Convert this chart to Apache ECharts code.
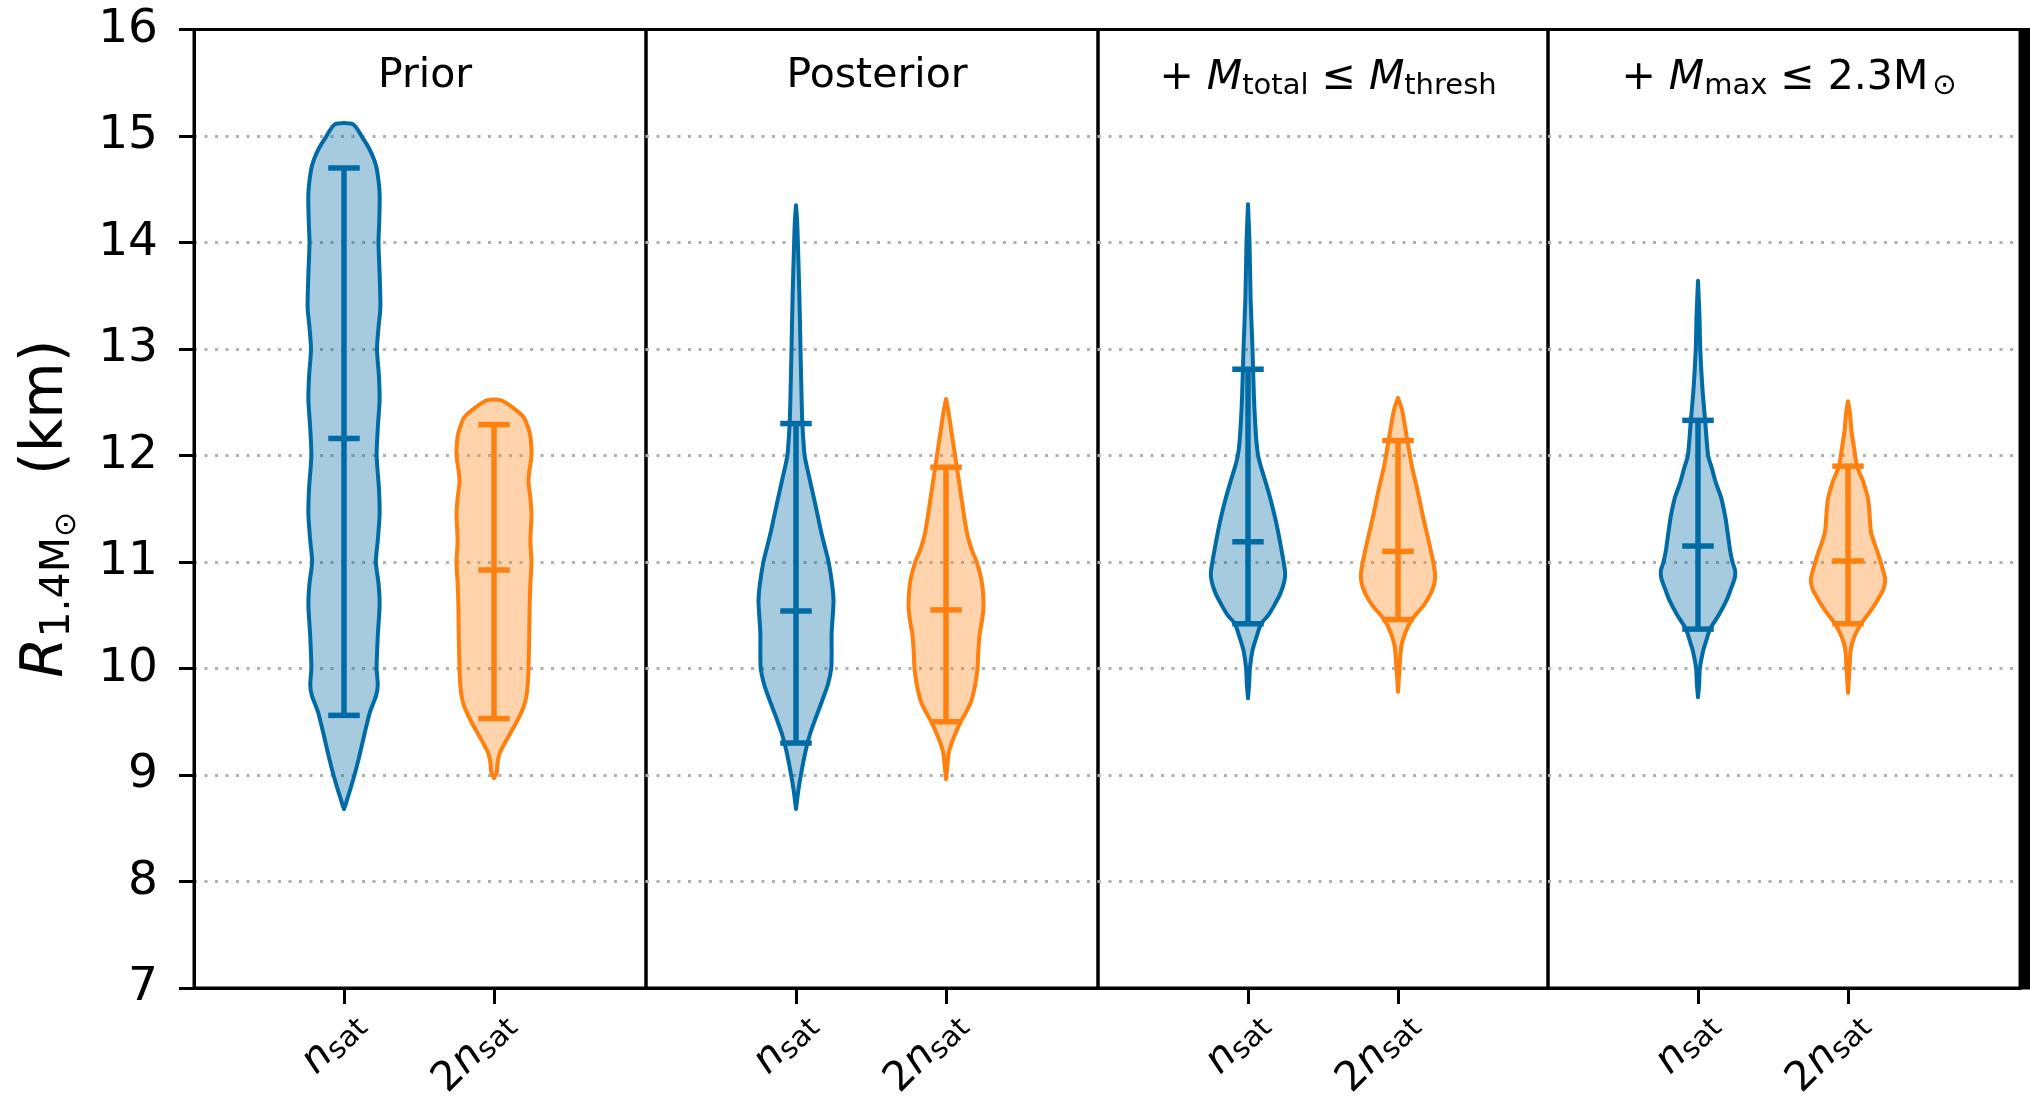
<!DOCTYPE html>
<html>
<head>
<meta charset="utf-8">
<script src="https://cdn.jsdelivr.net/npm/echarts@6/dist/echarts.min.js"></script>
<style>
  html, body { margin: 0; padding: 0; background: #ffffff; }
  #chart { width: 2030px; height: 1097px; }
</style>
</head>
<body>
<div id="chart"></div>
<script>
// R(1.4 Msun) distributions for the n_sat and 2 n_sat cut-offs, one panel per constraint stage.

// Panel titles (rich-text markup) and density cut-off tick labels
const panelTitles = [
  '{t|Prior}',
  '{t|Posterior}',
  '{t|+ }{i|M}{s|total}{t| ≤ }{i|M}{s|thresh}',
  '{t|+ }{i|M}{s|max}{t| ≤ 2.3M}{o|⊙}'
];
const cutoffPositions = [1, 2];
const cutoffLabels = ['{i|n}{s|sat}', '{t|2}{i|n}{s|sat}'];

// Radius axis (km)
const radiusMin = 7;
const radiusMax = 16;
const radiusStep = 1;

// Violin outlines: [radius (km), relative density] from top to bottom
const priorNsat = [[15.11,0.24],[14.98,0.5],[14.89,0.66],[14.78,0.8],[14.68,0.88],[14.46,0.95],[14.2,0.94],[14.0,0.92],[13.7,0.95],[13.39,0.97],[13.2,0.92],[13.0,0.88],[12.75,0.93],[12.53,0.95],[12.25,0.9],[12.0,0.87],[11.7,0.93],[11.45,0.95],[11.2,0.9],[11.0,0.85],[10.8,0.92],[10.6,0.95],[10.3,0.9],[10.0,0.87],[9.85,0.9],[9.75,0.86],[9.6,0.7],[9.45,0.59],[9.3,0.49],[9.15,0.39],[9.0,0.28],[8.88,0.18],[8.79,0.1],[8.72,0.04],[8.68,0]];
const prior2Nsat = [[12.52,0.18],[12.45,0.5],[12.36,0.79],[12.25,0.92],[12.18,0.97],[12.0,1.0],[11.85,0.94],[11.75,0.92],[11.6,0.97],[11.45,1.0],[11.2,0.97],[11.0,1.0],[10.8,0.97],[10.59,0.95],[10.3,0.94],[10.0,0.92],[9.85,0.9],[9.73,0.86],[9.64,0.79],[9.56,0.69],[9.47,0.56],[9.39,0.43],[9.3,0.29],[9.22,0.17],[9.15,0.11],[9.09,0.09],[9.02,0.07],[8.97,0]];
const postNsat = [[14.35,0],[14.2,0.03],[14.0,0.05],[13.5,0.09],[13.0,0.12],[12.52,0.15],[12.3,0.17],[12.0,0.23],[11.8,0.35],[11.58,0.49],[11.4,0.6],[11.27,0.68],[11.1,0.8],[11.0,0.87],[10.8,0.96],[10.64,1.0],[10.5,0.98],[10.33,0.95],[10.15,0.95],[10.0,0.94],[9.85,0.85],[9.7,0.7],[9.55,0.54],[9.38,0.37],[9.2,0.24],[9.0,0.13],[8.85,0.06],[8.68,0]];
const post2Nsat = [[12.53,0],[12.4,0.07],[12.21,0.15],[12.05,0.22],[11.89,0.29],[11.58,0.42],[11.27,0.56],[11.1,0.7],[11.0,0.82],[10.8,0.96],[10.58,1.0],[10.45,0.96],[10.33,0.9],[10.15,0.86],[10.0,0.84],[9.85,0.78],[9.7,0.68],[9.6,0.55],[9.5,0.39],[9.38,0.24],[9.28,0.13],[9.2,0.07],[9.1,0.04],[8.96,0]];
const mtotNsat = [[14.36,0],[14.0,0.04],[13.47,0.07],[13.0,0.12],[12.53,0.16],[12.15,0.22],[12.0,0.27],[11.9,0.34],[11.75,0.47],[11.59,0.6],[11.42,0.72],[11.27,0.81],[11.1,0.9],[11.0,0.95],[10.9,0.99],[10.82,0.97],[10.71,0.87],[10.6,0.71],[10.5,0.54],[10.42,0.35],[10.3,0.23],[10.17,0.12],[10.0,0.05],[9.85,0.03],[9.72,0]];
const mtot2Nsat = [[12.54,0],[12.45,0.09],[12.37,0.14],[12.14,0.25],[11.9,0.37],[11.75,0.47],[11.59,0.57],[11.42,0.67],[11.27,0.77],[11.1,0.88],[11.0,0.94],[10.88,0.99],[10.8,0.97],[10.71,0.88],[10.6,0.7],[10.46,0.37],[10.35,0.21],[10.21,0.09],[10.0,0.04],[9.78,0]];
const mmaxNsat = [[13.64,0],[13.3,0.04],[13.0,0.06],[12.62,0.12],[12.33,0.19],[12.0,0.27],[11.88,0.37],[11.74,0.48],[11.6,0.62],[11.42,0.73],[11.3,0.78],[11.2,0.82],[11.1,0.86],[11.0,0.92],[10.92,0.99],[10.85,0.98],[10.75,0.88],[10.64,0.76],[10.5,0.55],[10.37,0.32],[10.25,0.21],[10.17,0.14],[10.0,0.05],[9.85,0.03],[9.73,0]];
const mmax2Nsat = [[12.51,0],[12.4,0.05],[12.24,0.09],[12.1,0.15],[11.9,0.24],[11.75,0.41],[11.58,0.54],[11.42,0.58],[11.27,0.62],[11.1,0.78],[11.0,0.87],[10.84,0.99],[10.75,0.95],[10.67,0.83],[10.55,0.62],[10.42,0.35],[10.3,0.17],[10.17,0.07],[10.0,0.04],[9.77,0]];

// Interval markers, ordered panel by panel (n_sat, 2 n_sat)
const lowerBound = [9.56, 9.53, 9.30, 9.50, 10.42, 10.46, 10.37, 10.42];
const centreValue = [12.16, 10.925, 10.54, 10.55, 11.19, 11.10, 11.15, 11.01];
const upperBound = [14.70, 12.29, 12.30, 11.89, 12.81, 12.14, 12.33, 11.90];

const outlines = [priorNsat, prior2Nsat, postNsat, post2Nsat, mtotNsat, mtot2Nsat, mmaxNsat, mmax2Nsat];

// ---- layout and style ----
const FONT = 'DejaVu Sans';
const PANEL_EDGES = [194, 646, 1098, 1548, 2020];
const PLOT_TOP = 29.5;
const PLOT_BOTTOM = 988;
const PX_PER_UNIT = 150;
const HALF_WIDTH = 0.25;   // half of the violin width at peak density
const CAP_HALF = 0.105;
const PALETTE = [
  { line: '#006BA4', fill: 'rgba(0,107,164,0.35)' },
  { line: '#FF800E', fill: 'rgba(255,128,14,0.35)' }
];

const chart = echarts.init(document.getElementById('chart'), null, { renderer: 'canvas' });

const grids = [], xAxes = [], yAxes = [], titles = [], series = [];

function txt(size, extra) {
  return Object.assign({ fontFamily: FONT, fontSize: size, fontWeight: 'normal', color: '#000' }, extra || {});
}

for (let p = 0; p < 4; p++) {
  const left = PANEL_EDGES[p], right = PANEL_EDGES[p + 1];
  grids.push({
    left: left, top: PLOT_TOP, width: right - left, height: PLOT_BOTTOM - PLOT_TOP,
    containLabel: false, outerBoundsMode: 'none',
    show: true, borderColor: '#000', borderWidth: 3, backgroundColor: 'transparent'
  });
  xAxes.push({
    type: 'value', gridIndex: p, min: 0, max: (right - left) / PX_PER_UNIT,
    splitLine: { show: false },
    axisLine: { show: true, lineStyle: { color: '#000', width: 3 } },
    axisTick: { show: true, customValues: cutoffPositions, length: 16, inside: false, lineStyle: { color: '#000', width: 3 } },
    axisLabel: {
      show: true, customValues: cutoffPositions, rotate: 45, margin: 16,
      padding: [40, 0, 0, 0],
      formatter: function (val) { return cutoffLabels[cutoffPositions.indexOf(Math.round(val))]; },
      rich: {
        i: txt(41, { fontStyle: 'italic' }),
        t: txt(41),
        s: txt(29, { padding: [16, 0, 0, 0] })
      }
    }
  });
  yAxes.push({
    type: 'value', gridIndex: p, min: radiusMin, max: radiusMax, interval: radiusStep,
    name: p === 0 ? '{r|R}{s|1.4M}{o|⊙}{t|  (km)}' : '',
    nameLocation: 'middle', nameRotate: 90, nameGap: 112,
    nameTextStyle: {
      rich: {
        r: txt(58, { fontStyle: 'italic' }),
        s: txt(41, { padding: [22, 0, 0, 0] }),
        o: txt(30, { padding: [40, 0, 0, 0] }),
        t: txt(58)
      }
    },
    axisLine: { show: p === 0, lineStyle: { color: '#000', width: 3 } },
    axisTick: { show: p === 0, length: 15, lineStyle: { color: '#000', width: 3 } },
    axisLabel: { show: p === 0, fontFamily: FONT, fontSize: 47, color: '#000', margin: 36 },
    splitLine: {
      show: true, showMinLine: false, showMaxLine: false,
      lineStyle: { color: '#b0b0b0', width: 3, type: [3, 7.5] }
    }
  });
  titles.push({
    text: panelTitles[p],
    left: (left + right) / 2, top: 51, textAlign: 'center',
    textStyle: {
      fontWeight: 'normal',
      rich: {
        t: txt(41),
        i: txt(41, { fontStyle: 'italic' }),
        s: txt(29, { padding: [16, 0, 0, 0] }),
        o: txt(29, { padding: [16, 0, 0, 4] })
      }
    }
  });
}

function violinRenderer(k) {
  const profile = outlines[k];
  const pos = cutoffPositions[k % 2];
  const col = PALETTE[k % 2];
  return function (params, api) {
    const rightSide = profile.map(function (pt) { return api.coord([pos + pt[1] * HALF_WIDTH, pt[0]]); });
    const leftSide = profile.slice().reverse().map(function (pt) { return api.coord([pos - pt[1] * HALF_WIDTH, pt[0]]); });
    const seg = function (x1, r1, x2, r2) {
      const a = api.coord([x1, r1]), b = api.coord([x2, r2]);
      return { type: 'line', shape: { x1: a[0], y1: a[1], x2: b[0], y2: b[1] },
               style: { stroke: col.line, lineWidth: 5.5, lineCap: 'butt' } };
    };
    return {
      type: 'group',
      children: [
        { type: 'polygon', shape: { points: rightSide.concat(leftSide), smooth: 0.25 },
          style: { fill: col.fill, stroke: col.line, lineWidth: 4, lineJoin: 'round' } },
        seg(pos, lowerBound[k], pos, upperBound[k]),
        seg(pos - CAP_HALF, lowerBound[k], pos + CAP_HALF, lowerBound[k]),
        seg(pos - CAP_HALF, centreValue[k], pos + CAP_HALF, centreValue[k]),
        seg(pos - CAP_HALF, upperBound[k], pos + CAP_HALF, upperBound[k])
      ]
    };
  };
}

for (let k = 0; k < outlines.length; k++) {
  const p = Math.floor(k / 2);
  series.push({
    type: 'custom',
    xAxisIndex: p, yAxisIndex: p,
    data: [[cutoffPositions[k % 2], centreValue[k]]],
    encode: { x: 0, y: 1 },
    renderItem: violinRenderer(k),
    silent: true, z: 3
  });
}

chart.setOption({
  animation: false,
  backgroundColor: '#ffffff',
  title: titles,
  grid: grids,
  xAxis: xAxes,
  yAxis: yAxes,
  series: series,
  graphic: [
    { type: 'rect', shape: { x: 2019, y: PLOT_TOP - 1.5, width: 11, height: PLOT_BOTTOM - PLOT_TOP + 3 },
      style: { fill: '#000' }, z: 10 }
  ]
});
</script>
</body>
</html>
